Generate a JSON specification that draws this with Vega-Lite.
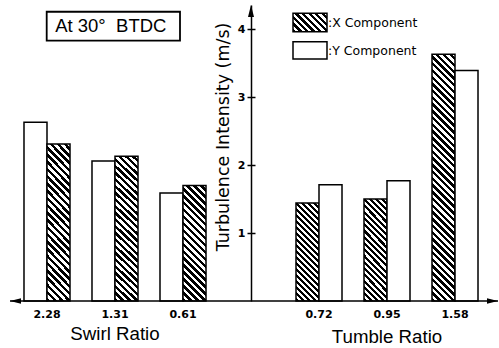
{
"$schema": "https://vega.github.io/schema/vega-lite/v6.json",
"width": 488,
"height": 296,
"autosize": {"type": "none"},
"padding": {"left": 10, "top": 5, "right": 1, "bottom": 47},
"background": "white",
"config": {"view": {"stroke": null}, "font": "Liberation Sans"},
"datasets": {
  "swirl": [
    {"ratio": "2.28", "comp": "Y", "value": 2.63},
    {"ratio": "2.28", "comp": "X", "value": 2.31},
    {"ratio": "1.31", "comp": "Y", "value": 2.06},
    {"ratio": "1.31", "comp": "X", "value": 2.13},
    {"ratio": "0.61", "comp": "Y", "value": 1.59},
    {"ratio": "0.61", "comp": "X", "value": 1.70}
  ],
  "tumble": [
    {"ratio": "0.72", "comp": "X", "value": 1.44},
    {"ratio": "0.72", "comp": "Y", "value": 1.71},
    {"ratio": "0.95", "comp": "X", "value": 1.50},
    {"ratio": "0.95", "comp": "Y", "value": 1.77},
    {"ratio": "1.58", "comp": "X", "value": 3.63},
    {"ratio": "1.58", "comp": "Y", "value": 3.39}
  ]
},
"resolve": {"scale": {"x": "independent"}, "axis": {"y": "independent"}},
"layer": [
  {
    "resolve": {"scale": {"xOffset": "independent"}},
    "layer": [
      {
        "data": {"name": "swirl"},
        "mark": {"type": "bar", "stroke": "#000", "strokeWidth": 1.5},
        "encoding": {
          "x": {"field": "ratio", "type": "nominal", "sort": null,
            "scale": {"type": "band", "domain": ["2.28", "1.31", "0.61", "", "0.72", "0.95", "1.58"], "paddingInner": 0, "paddingOuter": 0.0882, "align": 0.25},
            "axis": {"orient": "bottom", "domain": false, "ticks": false, "tickSize": 0, "labelFont": "DejaVu Sans", "labelFontWeight": "bold", "labelFontSize": 11, "labelColor": "#000", "labelPadding": 16.5, "labelBaseline": "alphabetic", "labelAngle": 0, "title": null}},
          "xOffset": {"field": "comp", "type": "nominal", "scale": {"domain": ["Y", "X"], "paddingInner": 0, "paddingOuter": 0.478}},
          "y": {"field": "value", "type": "quantitative",
            "scale": {"domain": [0, 4.353], "nice": false},
            "axis": {"orient": "left", "offset": -241, "values": [1, 2, 3, 4], "format": "d", "grid": false, "domainColor": "#000", "domainWidth": 1.5, "tickColor": "#000", "tickWidth": 1.5, "tickSize": 4, "labelFont": "DejaVu Sans", "labelFontWeight": "bold", "labelFontSize": 11, "labelColor": "#000", "labelPadding": 2, "title": "Turbulence Intensity (m/s)", "titleFont": "DejaVu Sans", "titleFontSize": 17.5, "titleFontWeight": "normal", "titleColor": "#000", "titleX": -28, "titleY": 131.5, "titleAngle": -90, "titleAlign": "center", "titleBaseline": "middle"}},
          "fill": {
            "condition": [
              {"test": "datum.comp === 'Y'", "value": "#fff"},
              {"test": "datum.value < 1.8", "value": {"gradient": "linear", "x1": 0, "y1": 1, "x2": 0.229464, "y2": -0.153307, "stops": [
{"offset":0,"color":"#000"},
{"offset":0.025,"color":"#000"},{"offset":0.025,"color":"#fff"},
{"offset":0.05,"color":"#fff"},{"offset":0.05,"color":"#000"},
{"offset":0.075,"color":"#000"},{"offset":0.075,"color":"#fff"},
{"offset":0.1,"color":"#fff"},{"offset":0.1,"color":"#000"},
{"offset":0.125,"color":"#000"},{"offset":0.125,"color":"#fff"},
{"offset":0.15,"color":"#fff"},{"offset":0.15,"color":"#000"},
{"offset":0.175,"color":"#000"},{"offset":0.175,"color":"#fff"},
{"offset":0.2,"color":"#fff"},{"offset":0.2,"color":"#000"},
{"offset":0.225,"color":"#000"},{"offset":0.225,"color":"#fff"},
{"offset":0.25,"color":"#fff"},{"offset":0.25,"color":"#000"},
{"offset":0.275,"color":"#000"},{"offset":0.275,"color":"#fff"},
{"offset":0.3,"color":"#fff"},{"offset":0.3,"color":"#000"},
{"offset":0.325,"color":"#000"},{"offset":0.325,"color":"#fff"},
{"offset":0.35,"color":"#fff"},{"offset":0.35,"color":"#000"},
{"offset":0.375,"color":"#000"},{"offset":0.375,"color":"#fff"},
{"offset":0.4,"color":"#fff"},{"offset":0.4,"color":"#000"},
{"offset":0.425,"color":"#000"},{"offset":0.425,"color":"#fff"},
{"offset":0.45,"color":"#fff"},{"offset":0.45,"color":"#000"},
{"offset":0.475,"color":"#000"},{"offset":0.475,"color":"#fff"},
{"offset":0.5,"color":"#fff"},{"offset":0.5,"color":"#000"},
{"offset":0.525,"color":"#000"},{"offset":0.525,"color":"#fff"},
{"offset":0.55,"color":"#fff"},{"offset":0.55,"color":"#000"},
{"offset":0.575,"color":"#000"},{"offset":0.575,"color":"#fff"},
{"offset":0.6,"color":"#fff"},{"offset":0.6,"color":"#000"},
{"offset":0.625,"color":"#000"},{"offset":0.625,"color":"#fff"},
{"offset":0.65,"color":"#fff"},{"offset":0.65,"color":"#000"},
{"offset":0.675,"color":"#000"},{"offset":0.675,"color":"#fff"},
{"offset":0.7,"color":"#fff"},{"offset":0.7,"color":"#000"},
{"offset":0.725,"color":"#000"},{"offset":0.725,"color":"#fff"},
{"offset":0.75,"color":"#fff"},{"offset":0.75,"color":"#000"},
{"offset":0.775,"color":"#000"},{"offset":0.775,"color":"#fff"},
{"offset":0.8,"color":"#fff"},{"offset":0.8,"color":"#000"},
{"offset":0.825,"color":"#000"},{"offset":0.825,"color":"#fff"},
{"offset":0.85,"color":"#fff"},{"offset":0.85,"color":"#000"},
{"offset":0.875,"color":"#000"},{"offset":0.875,"color":"#fff"},
{"offset":0.9,"color":"#fff"},{"offset":0.9,"color":"#000"},
{"offset":0.925,"color":"#000"},{"offset":0.925,"color":"#fff"},
{"offset":0.95,"color":"#fff"},{"offset":0.95,"color":"#000"},
{"offset":0.975,"color":"#000"},{"offset":0.975,"color":"#fff"},
{"offset":1,"color":"#fff"}]}}
            ],
            "value": {"gradient": "linear", "x1": 0, "y1": 1, "x2": 0.171588, "y2": -0.126214, "stops": [
{"offset":0,"color":"#000"},
{"offset":0.02,"color":"#000"},{"offset":0.02,"color":"#fff"},
{"offset":0.04,"color":"#fff"},{"offset":0.04,"color":"#000"},
{"offset":0.06,"color":"#000"},{"offset":0.06,"color":"#fff"},
{"offset":0.08,"color":"#fff"},{"offset":0.08,"color":"#000"},
{"offset":0.1,"color":"#000"},{"offset":0.1,"color":"#fff"},
{"offset":0.12,"color":"#fff"},{"offset":0.12,"color":"#000"},
{"offset":0.14,"color":"#000"},{"offset":0.14,"color":"#fff"},
{"offset":0.16,"color":"#fff"},{"offset":0.16,"color":"#000"},
{"offset":0.18,"color":"#000"},{"offset":0.18,"color":"#fff"},
{"offset":0.2,"color":"#fff"},{"offset":0.2,"color":"#000"},
{"offset":0.22,"color":"#000"},{"offset":0.22,"color":"#fff"},
{"offset":0.24,"color":"#fff"},{"offset":0.24,"color":"#000"},
{"offset":0.26,"color":"#000"},{"offset":0.26,"color":"#fff"},
{"offset":0.28,"color":"#fff"},{"offset":0.28,"color":"#000"},
{"offset":0.3,"color":"#000"},{"offset":0.3,"color":"#fff"},
{"offset":0.32,"color":"#fff"},{"offset":0.32,"color":"#000"},
{"offset":0.34,"color":"#000"},{"offset":0.34,"color":"#fff"},
{"offset":0.36,"color":"#fff"},{"offset":0.36,"color":"#000"},
{"offset":0.38,"color":"#000"},{"offset":0.38,"color":"#fff"},
{"offset":0.4,"color":"#fff"},{"offset":0.4,"color":"#000"},
{"offset":0.42,"color":"#000"},{"offset":0.42,"color":"#fff"},
{"offset":0.44,"color":"#fff"},{"offset":0.44,"color":"#000"},
{"offset":0.46,"color":"#000"},{"offset":0.46,"color":"#fff"},
{"offset":0.48,"color":"#fff"},{"offset":0.48,"color":"#000"},
{"offset":0.5,"color":"#000"},{"offset":0.5,"color":"#fff"},
{"offset":0.52,"color":"#fff"},{"offset":0.52,"color":"#000"},
{"offset":0.54,"color":"#000"},{"offset":0.54,"color":"#fff"},
{"offset":0.56,"color":"#fff"},{"offset":0.56,"color":"#000"},
{"offset":0.58,"color":"#000"},{"offset":0.58,"color":"#fff"},
{"offset":0.6,"color":"#fff"},{"offset":0.6,"color":"#000"},
{"offset":0.62,"color":"#000"},{"offset":0.62,"color":"#fff"},
{"offset":0.64,"color":"#fff"},{"offset":0.64,"color":"#000"},
{"offset":0.66,"color":"#000"},{"offset":0.66,"color":"#fff"},
{"offset":0.68,"color":"#fff"},{"offset":0.68,"color":"#000"},
{"offset":0.7,"color":"#000"},{"offset":0.7,"color":"#fff"},
{"offset":0.72,"color":"#fff"},{"offset":0.72,"color":"#000"},
{"offset":0.74,"color":"#000"},{"offset":0.74,"color":"#fff"},
{"offset":0.76,"color":"#fff"},{"offset":0.76,"color":"#000"},
{"offset":0.78,"color":"#000"},{"offset":0.78,"color":"#fff"},
{"offset":0.8,"color":"#fff"},{"offset":0.8,"color":"#000"},
{"offset":0.82,"color":"#000"},{"offset":0.82,"color":"#fff"},
{"offset":0.84,"color":"#fff"},{"offset":0.84,"color":"#000"},
{"offset":0.86,"color":"#000"},{"offset":0.86,"color":"#fff"},
{"offset":0.88,"color":"#fff"},{"offset":0.88,"color":"#000"},
{"offset":0.9,"color":"#000"},{"offset":0.9,"color":"#fff"},
{"offset":0.92,"color":"#fff"},{"offset":0.92,"color":"#000"},
{"offset":0.94,"color":"#000"},{"offset":0.94,"color":"#fff"},
{"offset":0.96,"color":"#fff"},{"offset":0.96,"color":"#000"},
{"offset":0.98,"color":"#000"},{"offset":0.98,"color":"#fff"},
{"offset":1,"color":"#fff"}]}
          }
        }
      },
      {
        "data": {"name": "tumble"},
        "mark": {"type": "bar", "stroke": "#000", "strokeWidth": 1.5},
        "encoding": {
          "x": {"field": "ratio", "type": "nominal", "sort": null,
            "scale": {"type": "band", "domain": ["2.28", "1.31", "0.61", "", "0.72", "0.95", "1.58"], "paddingInner": 0, "paddingOuter": 0.0882, "align": 0.25},
            "axis": {"orient": "bottom", "domain": false, "ticks": false, "tickSize": 0, "labelFont": "DejaVu Sans", "labelFontWeight": "bold", "labelFontSize": 11, "labelColor": "#000", "labelPadding": 16.5, "labelBaseline": "alphabetic", "labelAngle": 0, "title": null}},
          "xOffset": {"field": "comp", "type": "nominal", "scale": {"domain": ["X", "Y"], "paddingInner": 0, "paddingOuter": 0.478}},
          "y": {"field": "value", "type": "quantitative",
            "scale": {"domain": [0, 4.353], "nice": false},
            "axis": {"orient": "left", "offset": -241, "values": [1, 2, 3, 4], "format": "d", "grid": false, "domainColor": "#000", "domainWidth": 1.5, "tickColor": "#000", "tickWidth": 1.5, "tickSize": 4, "labelFont": "DejaVu Sans", "labelFontWeight": "bold", "labelFontSize": 11, "labelColor": "#000", "labelPadding": 2, "title": "Turbulence Intensity (m/s)", "titleFont": "DejaVu Sans", "titleFontSize": 17.5, "titleFontWeight": "normal", "titleColor": "#000", "titleX": -28, "titleY": 131.5, "titleAngle": -90, "titleAlign": "center", "titleBaseline": "middle"}},
          "fill": {
            "condition": [
              {"test": "datum.comp === 'Y'", "value": "#fff"},
              {"test": "datum.value < 1.8", "value": {"gradient": "linear", "x1": 0, "y1": 1, "x2": 0.268803, "y2": -0.168244, "stops": [
{"offset":0,"color":"#000"},
{"offset":0.025,"color":"#000"},{"offset":0.025,"color":"#fff"},
{"offset":0.05,"color":"#fff"},{"offset":0.05,"color":"#000"},
{"offset":0.075,"color":"#000"},{"offset":0.075,"color":"#fff"},
{"offset":0.1,"color":"#fff"},{"offset":0.1,"color":"#000"},
{"offset":0.125,"color":"#000"},{"offset":0.125,"color":"#fff"},
{"offset":0.15,"color":"#fff"},{"offset":0.15,"color":"#000"},
{"offset":0.175,"color":"#000"},{"offset":0.175,"color":"#fff"},
{"offset":0.2,"color":"#fff"},{"offset":0.2,"color":"#000"},
{"offset":0.225,"color":"#000"},{"offset":0.225,"color":"#fff"},
{"offset":0.25,"color":"#fff"},{"offset":0.25,"color":"#000"},
{"offset":0.275,"color":"#000"},{"offset":0.275,"color":"#fff"},
{"offset":0.3,"color":"#fff"},{"offset":0.3,"color":"#000"},
{"offset":0.325,"color":"#000"},{"offset":0.325,"color":"#fff"},
{"offset":0.35,"color":"#fff"},{"offset":0.35,"color":"#000"},
{"offset":0.375,"color":"#000"},{"offset":0.375,"color":"#fff"},
{"offset":0.4,"color":"#fff"},{"offset":0.4,"color":"#000"},
{"offset":0.425,"color":"#000"},{"offset":0.425,"color":"#fff"},
{"offset":0.45,"color":"#fff"},{"offset":0.45,"color":"#000"},
{"offset":0.475,"color":"#000"},{"offset":0.475,"color":"#fff"},
{"offset":0.5,"color":"#fff"},{"offset":0.5,"color":"#000"},
{"offset":0.525,"color":"#000"},{"offset":0.525,"color":"#fff"},
{"offset":0.55,"color":"#fff"},{"offset":0.55,"color":"#000"},
{"offset":0.575,"color":"#000"},{"offset":0.575,"color":"#fff"},
{"offset":0.6,"color":"#fff"},{"offset":0.6,"color":"#000"},
{"offset":0.625,"color":"#000"},{"offset":0.625,"color":"#fff"},
{"offset":0.65,"color":"#fff"},{"offset":0.65,"color":"#000"},
{"offset":0.675,"color":"#000"},{"offset":0.675,"color":"#fff"},
{"offset":0.7,"color":"#fff"},{"offset":0.7,"color":"#000"},
{"offset":0.725,"color":"#000"},{"offset":0.725,"color":"#fff"},
{"offset":0.75,"color":"#fff"},{"offset":0.75,"color":"#000"},
{"offset":0.775,"color":"#000"},{"offset":0.775,"color":"#fff"},
{"offset":0.8,"color":"#fff"},{"offset":0.8,"color":"#000"},
{"offset":0.825,"color":"#000"},{"offset":0.825,"color":"#fff"},
{"offset":0.85,"color":"#fff"},{"offset":0.85,"color":"#000"},
{"offset":0.875,"color":"#000"},{"offset":0.875,"color":"#fff"},
{"offset":0.9,"color":"#fff"},{"offset":0.9,"color":"#000"},
{"offset":0.925,"color":"#000"},{"offset":0.925,"color":"#fff"},
{"offset":0.95,"color":"#fff"},{"offset":0.95,"color":"#000"},
{"offset":0.975,"color":"#000"},{"offset":0.975,"color":"#fff"},
{"offset":1,"color":"#fff"}]}}
            ],
            "value": {"gradient": "linear", "x1": 0, "y1": 1, "x2": 0.100983, "y2": -0.083771, "stops": [
{"offset":0,"color":"#000"},
{"offset":0.0125,"color":"#000"},{"offset":0.0125,"color":"#fff"},
{"offset":0.025,"color":"#fff"},{"offset":0.025,"color":"#000"},
{"offset":0.0375,"color":"#000"},{"offset":0.0375,"color":"#fff"},
{"offset":0.05,"color":"#fff"},{"offset":0.05,"color":"#000"},
{"offset":0.0625,"color":"#000"},{"offset":0.0625,"color":"#fff"},
{"offset":0.075,"color":"#fff"},{"offset":0.075,"color":"#000"},
{"offset":0.0875,"color":"#000"},{"offset":0.0875,"color":"#fff"},
{"offset":0.1,"color":"#fff"},{"offset":0.1,"color":"#000"},
{"offset":0.1125,"color":"#000"},{"offset":0.1125,"color":"#fff"},
{"offset":0.125,"color":"#fff"},{"offset":0.125,"color":"#000"},
{"offset":0.1375,"color":"#000"},{"offset":0.1375,"color":"#fff"},
{"offset":0.15,"color":"#fff"},{"offset":0.15,"color":"#000"},
{"offset":0.1625,"color":"#000"},{"offset":0.1625,"color":"#fff"},
{"offset":0.175,"color":"#fff"},{"offset":0.175,"color":"#000"},
{"offset":0.1875,"color":"#000"},{"offset":0.1875,"color":"#fff"},
{"offset":0.2,"color":"#fff"},{"offset":0.2,"color":"#000"},
{"offset":0.2125,"color":"#000"},{"offset":0.2125,"color":"#fff"},
{"offset":0.225,"color":"#fff"},{"offset":0.225,"color":"#000"},
{"offset":0.2375,"color":"#000"},{"offset":0.2375,"color":"#fff"},
{"offset":0.25,"color":"#fff"},{"offset":0.25,"color":"#000"},
{"offset":0.2625,"color":"#000"},{"offset":0.2625,"color":"#fff"},
{"offset":0.275,"color":"#fff"},{"offset":0.275,"color":"#000"},
{"offset":0.2875,"color":"#000"},{"offset":0.2875,"color":"#fff"},
{"offset":0.3,"color":"#fff"},{"offset":0.3,"color":"#000"},
{"offset":0.3125,"color":"#000"},{"offset":0.3125,"color":"#fff"},
{"offset":0.325,"color":"#fff"},{"offset":0.325,"color":"#000"},
{"offset":0.3375,"color":"#000"},{"offset":0.3375,"color":"#fff"},
{"offset":0.35,"color":"#fff"},{"offset":0.35,"color":"#000"},
{"offset":0.3625,"color":"#000"},{"offset":0.3625,"color":"#fff"},
{"offset":0.375,"color":"#fff"},{"offset":0.375,"color":"#000"},
{"offset":0.3875,"color":"#000"},{"offset":0.3875,"color":"#fff"},
{"offset":0.4,"color":"#fff"},{"offset":0.4,"color":"#000"},
{"offset":0.4125,"color":"#000"},{"offset":0.4125,"color":"#fff"},
{"offset":0.425,"color":"#fff"},{"offset":0.425,"color":"#000"},
{"offset":0.4375,"color":"#000"},{"offset":0.4375,"color":"#fff"},
{"offset":0.45,"color":"#fff"},{"offset":0.45,"color":"#000"},
{"offset":0.4625,"color":"#000"},{"offset":0.4625,"color":"#fff"},
{"offset":0.475,"color":"#fff"},{"offset":0.475,"color":"#000"},
{"offset":0.4875,"color":"#000"},{"offset":0.4875,"color":"#fff"},
{"offset":0.5,"color":"#fff"},{"offset":0.5,"color":"#000"},
{"offset":0.5125,"color":"#000"},{"offset":0.5125,"color":"#fff"},
{"offset":0.525,"color":"#fff"},{"offset":0.525,"color":"#000"},
{"offset":0.5375,"color":"#000"},{"offset":0.5375,"color":"#fff"},
{"offset":0.55,"color":"#fff"},{"offset":0.55,"color":"#000"},
{"offset":0.5625,"color":"#000"},{"offset":0.5625,"color":"#fff"},
{"offset":0.575,"color":"#fff"},{"offset":0.575,"color":"#000"},
{"offset":0.5875,"color":"#000"},{"offset":0.5875,"color":"#fff"},
{"offset":0.6,"color":"#fff"},{"offset":0.6,"color":"#000"},
{"offset":0.6125,"color":"#000"},{"offset":0.6125,"color":"#fff"},
{"offset":0.625,"color":"#fff"},{"offset":0.625,"color":"#000"},
{"offset":0.6375,"color":"#000"},{"offset":0.6375,"color":"#fff"},
{"offset":0.65,"color":"#fff"},{"offset":0.65,"color":"#000"},
{"offset":0.6625,"color":"#000"},{"offset":0.6625,"color":"#fff"},
{"offset":0.675,"color":"#fff"},{"offset":0.675,"color":"#000"},
{"offset":0.6875,"color":"#000"},{"offset":0.6875,"color":"#fff"},
{"offset":0.7,"color":"#fff"},{"offset":0.7,"color":"#000"},
{"offset":0.7125,"color":"#000"},{"offset":0.7125,"color":"#fff"},
{"offset":0.725,"color":"#fff"},{"offset":0.725,"color":"#000"},
{"offset":0.7375,"color":"#000"},{"offset":0.7375,"color":"#fff"},
{"offset":0.75,"color":"#fff"},{"offset":0.75,"color":"#000"},
{"offset":0.7625,"color":"#000"},{"offset":0.7625,"color":"#fff"},
{"offset":0.775,"color":"#fff"},{"offset":0.775,"color":"#000"},
{"offset":0.7875,"color":"#000"},{"offset":0.7875,"color":"#fff"},
{"offset":0.8,"color":"#fff"},{"offset":0.8,"color":"#000"},
{"offset":0.8125,"color":"#000"},{"offset":0.8125,"color":"#fff"},
{"offset":0.825,"color":"#fff"},{"offset":0.825,"color":"#000"},
{"offset":0.8375,"color":"#000"},{"offset":0.8375,"color":"#fff"},
{"offset":0.85,"color":"#fff"},{"offset":0.85,"color":"#000"},
{"offset":0.8625,"color":"#000"},{"offset":0.8625,"color":"#fff"},
{"offset":0.875,"color":"#fff"},{"offset":0.875,"color":"#000"},
{"offset":0.8875,"color":"#000"},{"offset":0.8875,"color":"#fff"},
{"offset":0.9,"color":"#fff"},{"offset":0.9,"color":"#000"},
{"offset":0.9125,"color":"#000"},{"offset":0.9125,"color":"#fff"},
{"offset":0.925,"color":"#fff"},{"offset":0.925,"color":"#000"},
{"offset":0.9375,"color":"#000"},{"offset":0.9375,"color":"#fff"},
{"offset":0.95,"color":"#fff"},{"offset":0.95,"color":"#000"},
{"offset":0.9625,"color":"#000"},{"offset":0.9625,"color":"#fff"},
{"offset":0.975,"color":"#fff"},{"offset":0.975,"color":"#000"},
{"offset":0.9875,"color":"#000"},{"offset":0.9875,"color":"#fff"},
{"offset":1,"color":"#fff"}]}
          }
        }
      },
      {
        "data": {"values": [{}]},
        "mark": {"type": "text", "text": "Swirl Ratio", "font": "Liberation Sans", "fontSize": 18.7, "color": "#000", "align": "center", "baseline": "alphabetic"},
        "encoding": {
          "x": {"datum": "1.31", "type": "nominal", "scale": {"type": "band", "domain": ["2.28", "1.31", "0.61", "", "0.72", "0.95", "1.58"], "paddingInner": 0, "paddingOuter": 0.0882, "align": 0.25}},
          "y": {"datum": -0.5735, "type": "quantitative", "scale": {"domain": [0, 4.353], "nice": false}}
        }
      },
      {
        "data": {"values": [{}]},
        "mark": {"type": "text", "text": "Tumble Ratio", "font": "Liberation Sans", "fontSize": 18.7, "color": "#000", "align": "center", "baseline": "alphabetic"},
        "encoding": {
          "x": {"datum": "0.95", "type": "nominal", "scale": {"type": "band", "domain": ["2.28", "1.31", "0.61", "", "0.72", "0.95", "1.58"], "paddingInner": 0, "paddingOuter": 0.0882, "align": 0.25}},
          "y": {"datum": -0.622, "type": "quantitative", "scale": {"domain": [0, 4.353], "nice": false}}
        }
      }
    ]
  },
  {
    "layer": [
      {
        "data": {"values": [{}]},
        "mark": {"type": "rule", "color": "#000", "strokeWidth": 1.6},
        "encoding": {
          "x": {"datum": 0, "type": "quantitative", "scale": {"domain": [0, 100], "nice": false, "zero": false}, "axis": null},
          "x2": {"datum": 100},
          "y": {"datum": 0, "type": "quantitative", "scale": {"domain": [0, 4.353], "nice": false},
            "axis": {"orient": "right", "offset": -247, "values": [1, 2, 3, 4], "grid": false, "domain": false, "labels": false, "tickColor": "#000", "tickWidth": 1.5, "tickSize": 4, "title": null}}
        }
      },
      {
        "data": {"values": [{}]},
        "mark": {"type": "point", "shape": "M0,0L1,-0.25L1,0.25Z", "filled": true, "size": 484, "color": "#000", "opacity": 1, "strokeWidth": 0},
        "encoding": {
          "x": {"datum": 0, "type": "quantitative", "scale": {"domain": [0, 100], "nice": false, "zero": false}, "axis": null},
          "y": {"datum": 0, "type": "quantitative", "scale": {"domain": [0, 4.353], "nice": false}}
        }
      },
      {
        "data": {"values": [{}]},
        "mark": {"type": "point", "shape": "M0,0L-1,-0.25L-1,0.25Z", "filled": true, "size": 484, "color": "#000", "opacity": 1, "strokeWidth": 0},
        "encoding": {
          "x": {"datum": 100, "type": "quantitative", "scale": {"domain": [0, 100], "nice": false, "zero": false}, "axis": null},
          "y": {"datum": 0, "type": "quantitative", "scale": {"domain": [0, 4.353], "nice": false}}
        }
      },
      {
        "data": {"values": [{}]},
        "mark": {"type": "point", "shape": "M0,0L-0.25,1L0.25,1Z", "filled": true, "size": 576, "color": "#000", "opacity": 1, "strokeWidth": 0},
        "encoding": {
          "x": {"datum": 49.385, "type": "quantitative", "scale": {"domain": [0, 100], "nice": false, "zero": false}, "axis": null},
          "y": {"datum": 4.353, "type": "quantitative", "scale": {"domain": [0, 4.353], "nice": false}}
        }
      },
      {
        "data": {"values": [{}]},
        "mark": {"type": "rect", "fill": "#fff", "stroke": "#000", "strokeWidth": 1.8},
        "encoding": {
          "x": {"datum": 7.52, "type": "quantitative", "scale": {"domain": [0, 100], "nice": false, "zero": false}, "axis": null},
          "x2": {"datum": 34.836},
          "y": {"datum": 4.254, "type": "quantitative", "scale": {"domain": [0, 4.353], "nice": false}},
          "y2": {"datum": 3.828}
        }
      },
      {
        "data": {"values": [{}]},
        "mark": {"type": "text", "text": "At 30°\u00a0\u00a0BTDC", "font": "Liberation Sans", "fontSize": 18.5, "color": "#000", "align": "center", "baseline": "alphabetic"},
        "encoding": {
          "x": {"datum": 20.656, "type": "quantitative", "scale": {"domain": [0, 100], "nice": false, "zero": false}, "axis": null},
          "y": {"datum": 3.96, "type": "quantitative", "scale": {"domain": [0, 4.353], "nice": false}}
        }
      },
      {
        "data": {"values": [{}]},
        "mark": {"type": "rect", "stroke": "#000", "strokeWidth": 1.5,
          "fill": {"gradient": "linear", "x1": 0, "y1": 1, "x2": 1.19186, "y2": 0.35394, "stops": [
{"offset":0,"color":"#000"},
{"offset":0.0625,"color":"#000"},{"offset":0.0625,"color":"#fff"},
{"offset":0.125,"color":"#fff"},{"offset":0.125,"color":"#000"},
{"offset":0.1875,"color":"#000"},{"offset":0.1875,"color":"#fff"},
{"offset":0.25,"color":"#fff"},{"offset":0.25,"color":"#000"},
{"offset":0.3125,"color":"#000"},{"offset":0.3125,"color":"#fff"},
{"offset":0.375,"color":"#fff"},{"offset":0.375,"color":"#000"},
{"offset":0.4375,"color":"#000"},{"offset":0.4375,"color":"#fff"},
{"offset":0.5,"color":"#fff"},{"offset":0.5,"color":"#000"},
{"offset":0.5625,"color":"#000"},{"offset":0.5625,"color":"#fff"},
{"offset":0.625,"color":"#fff"},{"offset":0.625,"color":"#000"},
{"offset":0.6875,"color":"#000"},{"offset":0.6875,"color":"#fff"},
{"offset":0.75,"color":"#fff"},{"offset":0.75,"color":"#000"},
{"offset":0.8125,"color":"#000"},{"offset":0.8125,"color":"#fff"},
{"offset":0.875,"color":"#fff"},{"offset":0.875,"color":"#000"},
{"offset":0.9375,"color":"#000"},{"offset":0.9375,"color":"#fff"},
{"offset":1,"color":"#fff"}]}},
        "encoding": {
          "x": {"datum": 57.992, "type": "quantitative", "scale": {"domain": [0, 100], "nice": false, "zero": false}, "axis": null},
          "x2": {"datum": 64.959},
          "y": {"datum": 4.231, "type": "quantitative", "scale": {"domain": [0, 4.353], "nice": false}},
          "y2": {"datum": 3.96}
        }
      },
      {
        "data": {"values": [{}]},
        "mark": {"type": "rect", "fill": "#fff", "stroke": "#000", "strokeWidth": 1.5},
        "encoding": {
          "x": {"datum": 57.992, "type": "quantitative", "scale": {"domain": [0, 100], "nice": false, "zero": false}, "axis": null},
          "x2": {"datum": 64.959},
          "y": {"datum": 3.813, "type": "quantitative", "scale": {"domain": [0, 4.353], "nice": false}},
          "y2": {"datum": 3.559}
        }
      },
      {
        "data": {"values": [{}]},
        "mark": {"type": "text", "text": ":X Component", "font": "DejaVu Sans", "fontSize": 12.5, "color": "#000", "align": "left", "baseline": "alphabetic"},
        "encoding": {
          "x": {"datum": 65.164, "type": "quantitative", "scale": {"domain": [0, 100], "nice": false, "zero": false}, "axis": null},
          "y": {"datum": 4.034, "type": "quantitative", "scale": {"domain": [0, 4.353], "nice": false}}
        }
      },
      {
        "data": {"values": [{}]},
        "mark": {"type": "text", "text": ":Y Component", "font": "DejaVu Sans", "fontSize": 12.5, "color": "#000", "align": "left", "baseline": "alphabetic"},
        "encoding": {
          "x": {"datum": 65.164, "type": "quantitative", "scale": {"domain": [0, 100], "nice": false, "zero": false}, "axis": null},
          "y": {"datum": 3.618, "type": "quantitative", "scale": {"domain": [0, 4.353], "nice": false}}
        }
      }
    ]
  }
]
}
